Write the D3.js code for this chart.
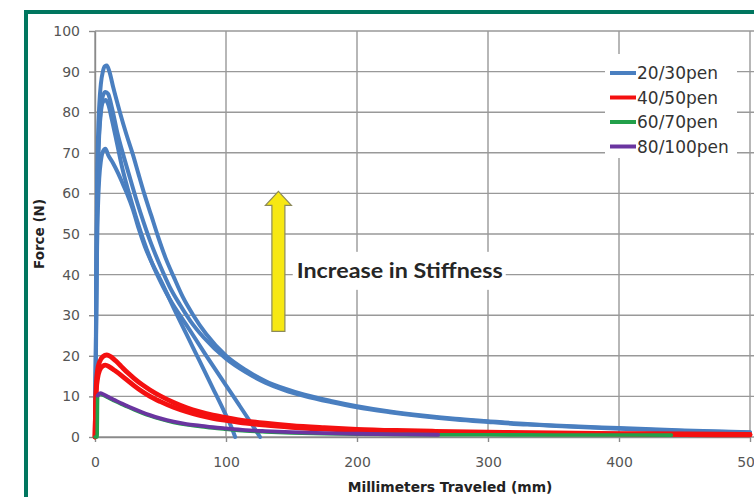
<!DOCTYPE html>
<html>
<head>
<meta charset="utf-8">
<script src="https://cdn.jsdelivr.net/npm/d3@7"></script>
<style>
  body { margin: 0; background: #fff; }
  svg { display: block; }
</style>
</head>
<body>
<div id="chart"></div>
<script>
// ---- data ----
var xTicks = [0, 100, 200, 300, 400, 500];
var yTicks = [0, 10, 20, 30, 40, 50, 60, 70, 80, 90, 100];
var seriesNames = ["20/30pen", "40/50pen", "60/70pen", "80/100pen"];

// 20/30pen runs  [mm, N]
var pen2030a = [[0,0],[0.6,20],[1.1,45],[1.6,62],[2.3,74],[3.3,82],[4.5,87],[6,90],[7.5,91.3],[9,91.5],[11,90],[14,86],[19,80],[24,74.5],[29,69.5],[33,65],[38,59.5],[43,54.5],[48,49.5],[54,44],[60,39.5],[67,34.5],[75,30],[85,25.3],[100,20],[115,16.5],[130,13.8],[145,11.9],[160,10.4],[180,8.9],[200,7.6],[225,6.3],[250,5.3],[275,4.5],[300,3.9],[330,3.2],[360,2.7],[400,2.2],[450,1.6],[500,1.2]];
var pen2030b = [[0,0],[0.6,18],[1.1,41],[1.6,57],[2.3,68],[3.3,76],[4.5,81],[6,84],[8,85],[10,84.5],[13,81],[17,75],[22,69],[27,63.5],[32,58],[37,53],[43,47.5],[50,42],[57,37],[65,32.5],[73,28.5],[83,24.5],[100,19.3],[115,16],[130,13.4],[145,11.5],[160,10.1],[180,8.6],[200,7.3],[225,6.1],[250,5.1],[275,4.3],[300,3.7],[330,3.05],[360,2.6],[400,2.05],[450,1.5],[500,1.1]];
var pen2030c = [[0,0],[0.6,17],[1.1,40],[1.6,56],[2.3,67],[3.3,75],[4.5,80],[6,82.5],[8,83],[10,82],[13,78],[17,72],[21,66],[26,60],[31,54.5],[37,48.5],[44,42.5],[52,37],[57,34],[70,27.5],[85,20],[100,12.7],[110,7.9],[118,4],[124,1],[126,0]];
var pen2030d = [[0,0],[0.6,15],[1.1,34],[1.6,47],[2.3,57],[3.3,64],[4.5,68],[6,70.3],[8,71],[10,69.5],[13.7,67.5],[17.6,65],[21,62.5],[24.4,60],[29,56],[33,51.7],[38,47],[44,42.5],[50,38.7],[60,31.8],[70,25.2],[80,18.6],[90,12],[99,6],[104,2.5],[107,0]];

// 40/50pen runs
var pen4050a = [[0,0],[0.5,8],[1,13],[2,16.5],[3.5,18.5],[6,19.8],[9,20.2],[12,19.8],[16,18.7],[20,17.4],[25,15.8],[30,14.4],[36,12.9],[42,11.6],[50,10.1],[60,8.5],[70,7.2],[80,6.2],[90,5.4],[100,4.8],[115,4],[130,3.4],[150,2.8],[175,2.3],[200,1.9],[230,1.6],[260,1.4],[300,1.2],[350,1],[400,0.85],[450,0.75],[500,0.65]];
var pen4050b = [[0,0],[0.5,7],[1,11.5],[2,14.5],[3.5,16.4],[6,17.5],[8,17.7],[11,17.3],[15,16.4],[20,15.2],[25,13.9],[30,12.6],[36,11.2],[42,10],[50,8.7],[60,7.3],[70,6.2],[80,5.3],[90,4.6],[100,4.1],[115,3.4],[130,2.9],[150,2.4],[175,1.95],[200,1.65],[230,1.35],[260,1.15],[300,0.95],[350,0.8],[400,0.7],[450,0.6],[500,0.5]];

// 60/70pen run
var pen6070a = [[0,0],[1.6,0],[2,10],[4,10.6],[7,10.2],[10,9.7],[15,8.9],[20,8.1],[25,7.4],[30,6.7],[36,5.9],[42,5.2],[50,4.4],[60,3.6],[70,3],[80,2.6],[90,2.2],[100,1.9],[115,1.5],[130,1.25],[150,1],[175,0.8],[200,0.7],[230,0.6],[262,0.55],[300,0.55],[350,0.5],[400,0.5],[440,0.45]];

// 80/100pen run
var pen80100a = [[2,10.2],[4,10.8],[7,10.4],[10,9.9],[15,9.1],[20,8.3],[25,7.6],[30,6.9],[36,6.1],[42,5.4],[50,4.6],[60,3.8],[70,3.2],[80,2.8],[90,2.4],[100,2.1],[115,1.7],[130,1.45],[150,1.2],[175,0.95],[200,0.8],[230,0.65],[262,0.55]];

var seriesRuns = [
  [pen2030a, pen2030b, pen2030c, pen2030d],
  [pen4050a, pen4050b],
  [pen6070a],
  [pen80100a]
];

// annotation, in data units
var arrowX = 140, arrowFrom = 26, arrowTo = 60.5;
var noteText = "Increase in Stiffness";
var noteX = 154, noteY = 39.2;

// ---- styles ----
var colors = ["#4a7fc0", "#f41010", "#22a04a", "#6a35a0"];
var widths = [4, 4.8, 3.6, 3.8];

var W = 754, H = 497;
var svg = d3.select("#chart").append("svg")
    .attr("width", W)
    .attr("height", H);

svg.append("rect").attr("width", W).attr("height", H).attr("fill", "#fff");

// green frame (cut off at right and bottom)
svg.append("rect")
    .attr("x", 26).attr("y", 12)
    .attr("width", 900).attr("height", 700)
    .attr("fill", "#fff")
    .attr("stroke", "#00765f")
    .attr("stroke-width", 4);

var x = d3.scaleLinear().domain([0, 500]).range([95, 750]);
var y = d3.scaleLinear().domain([0, 100]).range([437, 31]);

var plotRight = 760;

// grid
svg.append("g").selectAll("line.h")
    .data(yTicks).enter().append("line")
    .attr("x1", x(0)).attr("x2", plotRight)
    .attr("y1", function(d) { return y(d); })
    .attr("y2", function(d) { return y(d); })
    .attr("stroke", "#999").attr("stroke-width", 1.4);

svg.append("g").selectAll("line.v")
    .data(xTicks).enter().append("line")
    .attr("x1", function(d) { return x(d); })
    .attr("x2", function(d) { return x(d); })
    .attr("y1", y(100)).attr("y2", y(0))
    .attr("stroke", "#999").attr("stroke-width", 1.4);

// axes
var yAxis = svg.append("g")
    .attr("transform", "translate(" + x(0) + ",0)")
    .call(d3.axisLeft(y).tickValues(yTicks).tickSize(6).tickPadding(9).tickSizeOuter(0));
var xAxis = svg.append("g")
    .attr("transform", "translate(0," + y(0) + ")")
    .call(d3.axisBottom(x).tickValues(xTicks).tickSize(5).tickPadding(15).tickSizeOuter(0));

[yAxis, xAxis].forEach(function(a) {
    a.select(".domain").attr("stroke", "#8a8a8a").attr("stroke-width", 1.4);
    a.selectAll(".tick line").attr("stroke", "#8a8a8a").attr("stroke-width", 1.4);
    a.selectAll(".tick text")
        .attr("fill", "#555")
        .style("font-family", "'DejaVu Sans', sans-serif")
        .style("font-size", "14px");
});

// curves
var line = d3.line()
    .x(function(d) { return x(d[0]); })
    .y(function(d) { return y(d[1]); })
    .curve(d3.curveMonotoneX);

seriesRuns.forEach(function(runs, i) {
    svg.append("g").selectAll("path")
        .data(runs).enter().append("path")
        .attr("d", line)
        .attr("fill", "none")
        .attr("stroke", colors[i])
        .attr("stroke-width", widths[i])
        .attr("stroke-linejoin", "round")
        .attr("stroke-linecap", "round");
});

// legend
var legend = svg.append("g");
legend.append("rect")
    .attr("x", 605).attr("y", 54)
    .attr("width", 132).attr("height", 104)
    .attr("fill", "#fff");
var item = legend.selectAll("g.item")
    .data(seriesNames).enter().append("g")
    .attr("transform", function(d, i) { return "translate(610," + (73 + i * 24.5) + ")"; });
item.append("line")
    .attr("x1", 0).attr("x2", 26)
    .attr("stroke", function(d, i) { return colors[i]; })
    .attr("stroke-width", 4);
item.append("text")
    .attr("x", 27).attr("dy", "0.36em")
    .attr("fill", "#333")
    .style("font-family", "'DejaVu Sans', sans-serif")
    .style("font-size", "17px")
    .text(function(d) { return d; });

// arrow
var ax = x(arrowX), yTop = y(arrowTo), yBot = y(arrowFrom);
var shaft = 6.5, head = 13, headLen = 14;
svg.append("path")
    .attr("d", d3.line()([
        [ax - shaft, yBot], [ax - shaft, yTop + headLen], [ax - head, yTop + headLen],
        [ax, yTop], [ax + head, yTop + headLen], [ax + shaft, yTop + headLen],
        [ax + shaft, yBot]
    ]) + "Z")
    .attr("fill", "#f7e812")
    .attr("stroke", "#8c8a5a")
    .attr("stroke-width", 1.2);

// note
var nx = x(noteX), ny = y(noteY);
svg.append("rect")
    .attr("x", nx - 4).attr("y", ny - 26)
    .attr("width", 213).attr("height", 38)
    .attr("fill", "#fff");
svg.append("text")
    .attr("x", nx).attr("y", ny)
    .attr("fill", "#262626")
    .attr("textLength", 206)
    .attr("lengthAdjust", "spacingAndGlyphs")
    .style("font-family", "Lato, 'Open Sans', sans-serif")
    .style("font-weight", "bold")
    .style("font-size", "20px")
    .text(noteText);

// axis titles
svg.append("text")
    .attr("x", 450).attr("y", 492)
    .attr("text-anchor", "middle")
    .attr("fill", "#222")
    .style("font-family", "'DejaVu Sans', sans-serif")
    .style("font-weight", "bold")
    .style("font-size", "13.8px")
    .text("Millimeters Traveled (mm)");

svg.append("text")
    .attr("transform", "translate(44,234) rotate(-90)")
    .attr("text-anchor", "middle")
    .attr("fill", "#222")
    .style("font-family", "'DejaVu Sans', sans-serif")
    .style("font-weight", "bold")
    .style("font-size", "13.5px")
    .text("Force (N)");
</script>
</body>
</html>
